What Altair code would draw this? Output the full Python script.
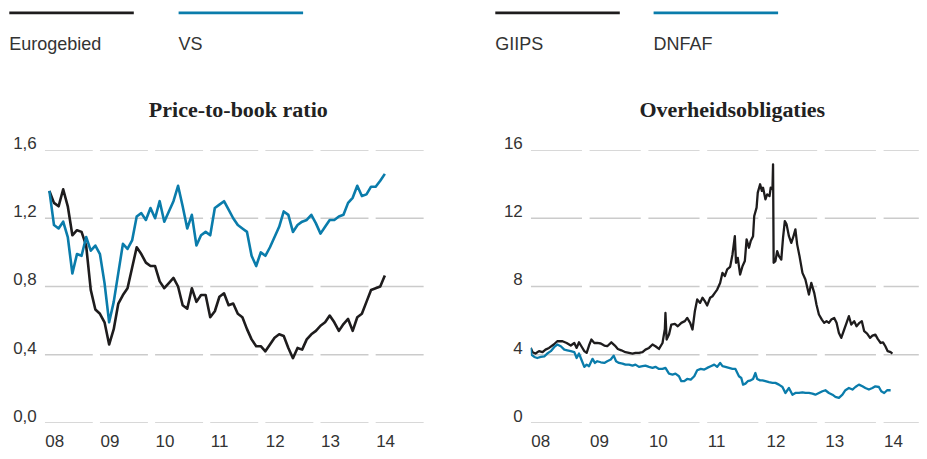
import altair as alt
import pandas as pd

# ---------------- data ----------------
# Left panel: monthly (month-end) price-to-book ratio, Jan 2008 - Feb 2014
ptb_start_year = 2008
ptb_eurogebied = [1.36, 1.29, 1.27, 1.37, 1.27, 1.10, 1.13, 1.12, 1.04, 0.78,
                  0.665, 0.64, 0.59, 0.46, 0.55, 0.70, 0.75, 0.79, 0.91, 1.03,
                  0.99, 0.94, 0.92, 0.92, 0.83, 0.79, 0.82, 0.85, 0.80, 0.69,
                  0.67, 0.79, 0.71, 0.75, 0.75, 0.62, 0.655, 0.74, 0.76, 0.69,
                  0.70, 0.64, 0.62, 0.55, 0.49, 0.45, 0.45, 0.42, 0.46, 0.50,
                  0.52, 0.51, 0.44, 0.38, 0.44, 0.43, 0.49, 0.52, 0.54, 0.57,
                  0.59, 0.63, 0.59, 0.54, 0.58, 0.61, 0.54, 0.62, 0.64, 0.71,
                  0.78, 0.79, 0.80, 0.865]
ptb_vs = [1.36, 1.16, 1.14, 1.18, 1.09, 0.876, 0.99, 0.98, 1.09, 1.01,
          1.04, 0.99, 0.82, 0.59, 0.71, 0.88, 1.05, 1.02, 1.07, 1.21,
          1.23, 1.19, 1.26, 1.20, 1.30, 1.18, 1.24, 1.30, 1.39, 1.27,
          1.14, 1.22, 1.04, 1.10, 1.12, 1.10, 1.26, 1.28, 1.30, 1.25,
          1.20, 1.16, 1.14, 1.12, 0.98, 0.92, 1.00, 0.98, 1.03, 1.09,
          1.15, 1.24, 1.22, 1.12, 1.16, 1.18, 1.19, 1.22, 1.17, 1.11,
          1.15, 1.19, 1.19, 1.21, 1.22, 1.29, 1.32, 1.39, 1.33, 1.34,
          1.385, 1.385, 1.42, 1.46]

# Right panel: government bond yields (decimal year, percent)
giips_t = [2008.00, 2008.03, 2008.08, 2008.14, 2008.20, 2008.25, 2008.31, 2008.39, 2008.45, 2008.54,
           2008.61, 2008.68, 2008.74, 2008.78, 2008.82, 2008.86, 2008.91, 2008.95, 2008.99, 2009.03,
           2009.08, 2009.13, 2009.19, 2009.25, 2009.30, 2009.37, 2009.43, 2009.48, 2009.54, 2009.61,
           2009.67, 2009.73, 2009.78, 2009.84, 2009.90, 2009.95, 2010.01, 2010.07, 2010.12, 2010.18,
           2010.24, 2010.28, 2010.29, 2010.31, 2010.35, 2010.39, 2010.45, 2010.50, 2010.56, 2010.62,
           2010.66, 2010.71, 2010.75, 2010.79, 2010.83, 2010.88, 2010.92, 2010.96, 2011.00, 2011.05,
           2011.09, 2011.13, 2011.17, 2011.22, 2011.26, 2011.30, 2011.34, 2011.39, 2011.43, 2011.47,
           2011.49, 2011.52, 2011.56, 2011.60, 2011.64, 2011.67, 2011.71, 2011.74, 2011.78, 2011.80,
           2011.84, 2011.86, 2011.90, 2011.93, 2011.95, 2011.99, 2012.02, 2012.06, 2012.08, 2012.11,
           2012.12, 2012.13, 2012.16, 2012.19, 2012.22, 2012.26, 2012.29, 2012.32, 2012.35, 2012.39,
           2012.43, 2012.46, 2012.50, 2012.53, 2012.57, 2012.62, 2012.67, 2012.73, 2012.77, 2012.82,
           2012.86, 2012.90, 2012.95, 2012.99, 2013.03, 2013.07, 2013.11, 2013.16, 2013.20, 2013.24,
           2013.28, 2013.33, 2013.37, 2013.41, 2013.45, 2013.50, 2013.54, 2013.59, 2013.63, 2013.67,
           2013.72, 2013.77, 2013.81, 2013.86, 2013.90, 2013.95, 2013.99, 2014.03, 2014.07, 2014.12,
           2014.15]
giips_v = [4.40, 4.15, 4.07, 4.21, 4.15, 4.30, 4.40, 4.60, 4.79, 4.79,
           4.69, 4.54, 4.69, 4.40, 4.73, 4.50, 4.21, 4.11, 4.54, 4.89,
           4.69, 4.69, 4.66, 4.54, 4.50, 4.73, 4.54, 4.34, 4.26, 4.15,
           4.11, 4.07, 4.11, 4.11, 4.15, 4.30, 4.40, 4.60, 4.50, 4.34,
           4.69, 5.52, 6.45, 4.89, 5.18, 5.77, 5.81, 5.67, 5.87, 5.97,
           6.16, 5.87, 5.48, 6.55, 7.24, 7.04, 7.34, 7.14, 6.89, 7.34,
           7.43, 7.63, 7.82, 8.21, 8.80, 8.61, 9.00, 9.15, 9.88, 10.95,
           9.39, 9.68, 8.70, 9.19, 9.49, 10.76, 10.27, 10.66, 10.95, 12.13,
           12.62, 13.50, 13.99, 13.60, 13.79, 13.11, 13.40, 13.30, 13.79, 13.70,
           15.16, 9.39, 9.49, 10.07, 9.78, 9.58, 10.86, 11.83, 11.64, 10.95,
           10.56, 10.86, 11.35, 10.47, 9.78, 8.80, 8.41, 7.53, 8.21, 7.63,
           6.92, 6.36, 6.06, 5.87, 5.97, 5.87, 6.06, 6.16, 5.87, 5.28,
           4.99, 5.48, 5.87, 6.26, 5.77, 5.97, 5.67, 5.87, 5.97, 5.38,
           5.24, 4.99, 5.12, 5.18, 4.93, 4.69, 4.73, 4.50, 4.21, 4.15,
           4.07]
dnfaf_t = [2008.00, 2008.01, 2008.06, 2008.11, 2008.17, 2008.23, 2008.28, 2008.34, 2008.40, 2008.45,
           2008.51, 2008.57, 2008.62, 2008.68, 2008.74, 2008.78, 2008.82, 2008.86, 2008.91, 2008.95,
           2008.99, 2009.05, 2009.09, 2009.13, 2009.19, 2009.25, 2009.30, 2009.36, 2009.41, 2009.45,
           2009.50, 2009.56, 2009.61, 2009.67, 2009.73, 2009.78, 2009.84, 2009.90, 2009.95, 2010.01,
           2010.07, 2010.12, 2010.18, 2010.24, 2010.29, 2010.35, 2010.41, 2010.46, 2010.52, 2010.56,
           2010.61, 2010.66, 2010.72, 2010.78, 2010.83, 2010.89, 2010.95, 2011.00, 2011.06, 2011.12,
           2011.17, 2011.22, 2011.26, 2011.31, 2011.37, 2011.43, 2011.48, 2011.54, 2011.58, 2011.61,
           2011.65, 2011.69, 2011.74, 2011.78, 2011.82, 2011.85, 2011.90, 2011.94, 2011.99, 2012.05,
           2012.11, 2012.16, 2012.22, 2012.28, 2012.33, 2012.39, 2012.45, 2012.50, 2012.56, 2012.62,
           2012.67, 2012.73, 2012.79, 2012.84, 2012.90, 2012.96, 2013.01, 2013.07, 2013.13, 2013.18,
           2013.24, 2013.30, 2013.35, 2013.41, 2013.47, 2013.52, 2013.58, 2013.64, 2013.69, 2013.75,
           2013.81, 2013.86, 2013.92, 2013.96, 2014.01, 2014.06, 2014.12]
dnfaf_v = [4.40, 4.01, 3.87, 3.81, 3.87, 3.91, 4.07, 4.21, 4.46, 4.60,
           4.50, 4.30, 4.26, 4.21, 4.15, 3.81, 4.07, 3.72, 3.29, 3.42,
           3.33, 3.76, 3.52, 3.62, 3.56, 3.52, 3.62, 3.72, 3.95, 3.62,
           3.52, 3.48, 3.42, 3.42, 3.36, 3.42, 3.29, 3.33, 3.36, 3.29,
           3.23, 3.29, 3.17, 3.17, 3.23, 2.89, 2.84, 2.89, 2.74, 2.45,
           2.45, 2.58, 2.54, 2.74, 3.09, 3.17, 3.13, 3.23, 3.33, 3.42,
           3.29, 3.52, 3.33, 3.29, 3.23, 3.17, 3.17, 2.74, 2.64, 2.25,
           2.31, 2.45, 2.50, 2.58, 2.93, 2.58, 2.50, 2.50, 2.45, 2.39,
           2.35, 2.35, 2.25, 2.11, 1.76, 2.05, 1.66, 1.76, 1.76, 1.80,
           1.76, 1.76, 1.72, 1.66, 1.76, 1.86, 1.92, 1.76, 1.66, 1.53,
           1.47, 1.66, 1.92, 2.05, 1.96, 2.11, 2.25, 2.15, 2.05, 1.96,
           2.05, 2.15, 2.11, 1.86, 1.76, 1.92, 1.92]

years = [2008, 2009, 2010, 2011, 2012, 2013, 2014]
left_ticks = [0.0, 0.4, 0.8, 1.2, 1.6]
right_ticks = [0, 4, 8, 12, 16]
left_names = ["Eurogebied", "VS"]
right_names = ["GIIPS", "DNFAF"]
colors = ["#1e1c1d", "#0a7cab"]

# ---------------- tables ----------------
ptb_t = [ptb_start_year + (i + 1) / 12 for i in range(len(ptb_eurogebied))]
left_df = pd.DataFrame({
    "t": ptb_t * 2,
    "v": ptb_eurogebied + ptb_vs,
    "reeks": [left_names[0]] * len(ptb_t) + [left_names[1]] * len(ptb_t),
})
right_df = pd.DataFrame({
    "t": giips_t + dnfaf_t,
    "v": giips_v + dnfaf_v,
    "reeks": [right_names[0]] * len(giips_t) + [right_names[1]] * len(dnfaf_t),
})

SEG = 0.87  # visible part of each yearly grid segment


def grid_df(ticks):
    return pd.DataFrame([{"x0": y, "x1": y + SEG, "v": v} for y in years for v in ticks])


LABEL_FONT = "Liberation Sans"
TXT = "#333333"
# legend swatch: a line drawn above the label (path relative to the symbol centre)
SWATCH_PATH = "M9,-32.3L133.5,-32.3"


def panel(df, names, ticks, xmax, width, title, fmt_expr, col_pad, title_dx, lw):
    xscale = alt.Scale(domain=[2008, xmax], nice=False, zero=False)
    yscale = alt.Scale(domain=[ticks[0], ticks[-1]], nice=False, zero=False)
    xaxis = alt.Axis(values=years, labelExpr="substring(toString(datum.value), 2, 4)",
                     labelAlign="left", labelBaseline="middle", labelPadding=19,
                     tickSize=0, ticks=False, domain=False, grid=False, title=None,
                     labelFont=LABEL_FONT, labelFontSize=17, labelColor=TXT,
                     labelFlush=False, labelOverlap=False)
    top_axis = alt.Axis(orient="top", labels=False, ticks=False, domain=False, grid=False,
                        title=title, titleFont="Liberation Serif", titleFontSize=22,
                        titleFontWeight="bold", titleColor="#222222", titleBaseline="middle",
                        titleAlign="center", titleX=width / 2 + title_dx, titleY=-41)
    yaxis = alt.Axis(values=ticks, labelExpr=fmt_expr, labelAlign="right",
                     labelBaseline="middle", labelOffset=-6.5, labelPadding=8.5,
                     tickSize=0, ticks=False, domain=False, grid=False, title=None,
                     labelFont=LABEL_FONT, labelFontSize=17, labelColor=TXT,
                     labelFlush=False, labelOverlap=False)
    grid = alt.Chart(grid_df(ticks)).mark_rule(color="#cbcbcb", strokeWidth=1.6, clip=True).encode(
        x=alt.X("x0:Q", scale=xscale, axis=xaxis),
        x2="x1:Q",
        y=alt.Y("v:Q", scale=yscale, axis=yaxis),
    )
    lines = alt.Chart(df).mark_line(strokeWidth=lw, clip=True, strokeJoin="round").encode(
        x=alt.X("t:Q", scale=xscale, axis=top_axis),
        y=alt.Y("v:Q", scale=yscale, axis=yaxis),
        color=alt.Color("reeks:N", sort=names,
                        scale=alt.Scale(domain=names, range=colors),
                        legend=alt.Legend(
                            title=None, orient="none", legendX=-53.5, legendY=-113.8,
                            direction="horizontal", padding=0,
                            symbolType=SWATCH_PATH, symbolSize=4,
                            symbolStrokeWidth=2.6, labelOffset=0,
                            labelFont=LABEL_FONT, labelFontSize=18, labelColor=TXT,
                            columnPadding=col_pad, gridAlign="all")),
    )
    return alt.layer(grid, lines).resolve_axis(x="independent").properties(
        width=width, height=273)


left = panel(left_df, left_names, left_ticks, 2015, 386, "Price-to-book ratio",
             "replace(format(datum.value, '.1f'), '.', ',')", 21.3, 0, 2.6)
right = panel(right_df, right_names, right_ticks, 2008 + 388 / 58.8, 388, "Overheidsobligaties",
              "format(datum.value, 'd')", 10.3, 7, 2.3)

chart = alt.hconcat(left, right, spacing=100, bounds="flush").resolve_scale(
    color="independent"
).properties(
    padding={"left": -17.2, "top": 28, "right": 0, "bottom": -2}
).configure_view(stroke=None)

chart.save("out.html", embed_options={"renderer": "svg", "actions": False})
